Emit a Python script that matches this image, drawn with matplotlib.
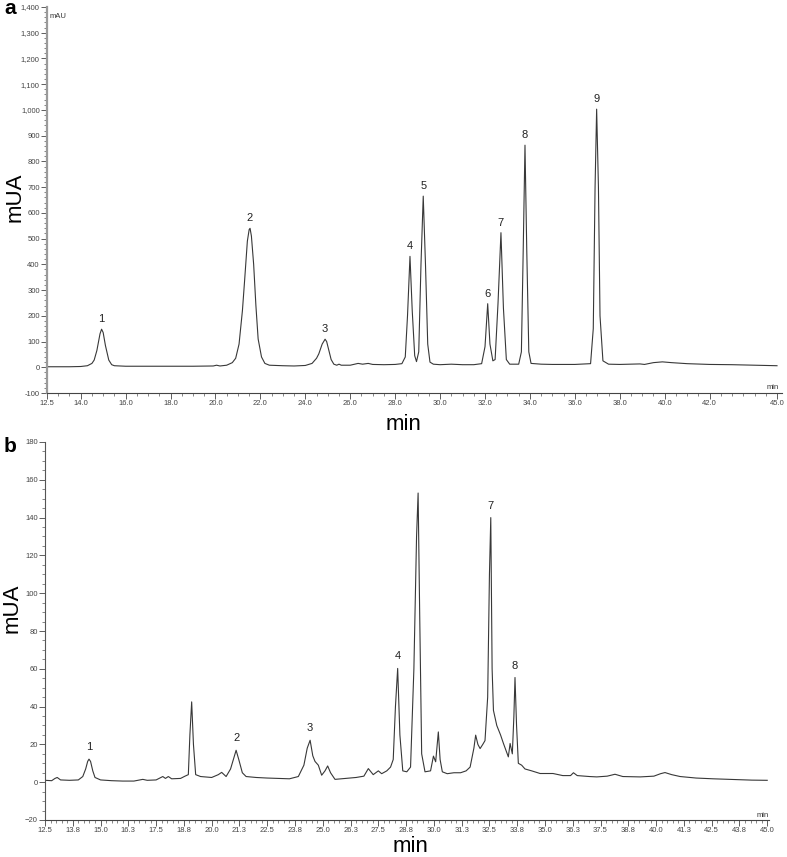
import matplotlib
matplotlib.use("Agg")
import matplotlib.pyplot as plt
from matplotlib.ticker import FixedLocator, MultipleLocator
import numpy as np

plt.rcParams['font.family'] = ['Liberation Sans', 'DejaVu Sans']

# ---- panel a: standard mixture (time in min, signal in mAU)
time_a = [12.5, 13.0, 13.5, 14.0, 14.3, 14.5, 14.6, 14.72, 14.86, 14.93, 15.0, 15.1, 15.25,
          15.38, 15.5, 16.0, 17.0, 18.0, 19.0, 19.9, 20.05, 20.2, 20.5, 20.75, 20.9, 21.05,
          21.2, 21.3, 21.42, 21.5, 21.54, 21.6, 21.7, 21.8, 21.9, 22.05, 22.2, 22.4, 23.0,
          23.5, 24.0, 24.3, 24.5, 24.6, 24.75, 24.88, 24.95, 25.05, 25.15, 25.27, 25.4, 25.5,
          25.6, 26.0, 26.35, 26.55, 26.8, 27.0, 27.5, 28.0, 28.3, 28.45, 28.55, 28.66, 28.76,
          28.87, 28.95, 29.05, 29.15, 29.25, 29.35, 29.45, 29.55, 29.7, 30.0, 30.5, 31.0, 31.5,
          31.85, 32.0, 32.12, 32.22, 32.35, 32.45, 32.58, 32.71, 32.82, 32.95, 33.1, 33.5,
          33.62, 33.7, 33.78, 33.86, 33.95, 34.05, 34.5, 35.0, 36.0, 36.7, 36.82, 36.9, 36.97,
          37.05, 37.12, 37.25, 37.5, 38.0, 38.9, 39.1, 39.5, 39.9, 40.3, 41.0, 42.0, 43.0,
          44.0, 45.0]
signal_a = [2, 2, 2, 3, 6, 15, 28, 65, 130, 148, 135, 85, 28,
            10, 6, 4, 4, 4, 4, 5, 8, 5, 8, 18, 35, 90,
            220, 340, 490, 535, 540, 510, 400, 240, 110, 40, 15, 8, 6,
            5, 7, 15, 35, 52, 90, 109, 100, 65, 30, 12, 8, 12,
            8, 8, 15, 12, 15, 11, 10, 11, 14, 40, 200, 431, 220,
            45, 22, 60, 400, 665, 400, 90, 20, 12, 10, 12, 10, 10,
            14, 80, 247, 90, 25, 30, 250, 523, 230, 30, 12, 12,
            60, 450, 863, 450, 60, 15, 12, 11, 11, 14, 150, 700, 1003,
            700, 200, 25, 12, 11, 13, 11, 18, 21, 18, 14, 11, 10,
            8, 6]
peak_names_a = ['1', '2', '3', '4', '5', '6', '7', '8', '9']
peak_t_a = [14.93, 21.54, 24.88, 28.66, 29.25, 32.12, 32.71, 33.78, 36.97]
peak_v_a = [148, 540, 109, 431, 665, 247, 523, 863, 1003]
xticks_a = [12.5, 14.0, 16.0, 18.0, 20.0, 22.0, 24.0, 26.0, 28.0, 30.0, 32.0,
            34.0, 36.0, 38.0, 40.0, 42.0, 45.0]
yticks_a = [-100, 0, 100, 200, 300, 400, 500, 600, 700, 800, 900, 1000, 1100, 1200, 1300, 1400]

# ---- panel b: sample extract
time_b = [12.5, 12.8, 12.95, 13.05, 13.2, 13.6, 14.0, 14.2, 14.33, 14.42, 14.48, 14.55, 14.65,
          14.75, 15.0, 15.5, 16.0, 16.5, 16.9, 17.1, 17.5, 17.8, 17.92, 18.05, 18.2, 18.6,
          18.8, 18.95, 19.02, 19.1, 19.18, 19.28, 19.5, 20.0, 20.3, 20.45, 20.65, 20.85, 21.0,
          21.1, 21.22, 21.38, 21.55, 22.0, 22.5, 23.0, 23.5, 23.9, 24.15, 24.3, 24.43, 24.55,
          24.65, 24.8, 24.95, 25.1, 25.22, 25.35, 25.55, 26.0, 26.5, 26.85, 27.05, 27.27, 27.5,
          27.65, 27.88, 28.05, 28.17, 28.27, 28.37, 28.47, 28.6, 28.78, 28.95, 29.1, 29.22,
          29.29, 29.36, 29.45, 29.6, 29.85, 29.98, 30.08, 30.2, 30.28, 30.38, 30.6, 30.9, 31.2,
          31.45, 31.63, 31.8, 31.88, 31.98, 32.08, 32.2, 32.3, 32.42, 32.5, 32.56, 32.62, 32.68,
          32.83, 33.0, 33.13, 33.35, 33.43, 33.53, 33.6, 33.65, 33.72, 33.8, 33.95, 34.1, 34.4,
          34.78, 35.36, 35.8, 36.15, 36.28, 36.45, 37.0, 37.33, 37.8, 38.15, 38.5, 39.28, 39.9,
          40.2, 40.4, 40.7, 41.08, 41.8, 42.56, 43.5, 44.3, 45.0]
signal_b = [1.0, 0.8, 2.0, 2.5, 1.2, 1.0, 1.2, 3, 7, 11, 12.2, 11, 6,
            2.5, 1.2, 0.8, 0.6, 0.6, 1.5, 1.0, 1.2, 3.0, 2.0, 3.0, 1.8, 2.0,
            3.2, 4, 25, 42.5, 20, 4, 3, 2.5, 4, 5.2, 3.0, 7, 13,
            16.9, 12, 5, 3, 2.5, 2.2, 2.0, 1.8, 3, 9, 18, 22.2, 14,
            11, 9, 3.7, 6, 8.6, 5, 1.5, 2.0, 2.5, 3.2, 7.2, 4.0, 6.0,
            4.5, 6.0, 8, 12, 40, 60.2, 25, 6, 5.5, 8, 60, 130,
            153, 90, 15, 5.5, 6, 13.8, 10.8, 26.6, 12, 5.5, 4.5, 5, 5,
            6, 8, 18, 24.9, 20, 17.8, 20, 22, 45, 110, 140, 60, 38,
            30, 25, 20.5, 13.4, 20.5, 15, 35, 55.4, 30, 10, 9, 7, 6,
            4.6, 4.6, 3.5, 3.5, 5, 3.5, 3, 2.8, 3.2, 4.2, 3, 2.8, 3.2,
            4.5, 5.1, 4, 3, 2.2, 1.8, 1.4, 1.1, 1.0]
peak_names_b = ['1', '2', '3', '4', '7', '8']
peak_t_b = [14.48, 21.1, 24.43, 28.37, 32.56, 33.65]
peak_v_b = [12.2, 16.9, 22.2, 60.2, 140, 55.4]
xticks_b = [12.5 + 1.25 * i for i in range(27)]
xticklabels_b = ['12.5', '13.8', '15.0', '16.3', '17.5', '18.8', '20.0', '21.3', '22.5',
                 '23.8', '25.0', '26.3', '27.5', '28.8', '30.0', '31.3', '32.5', '33.8',
                 '35.0', '36.3', '37.5', '38.8', '40.0', '41.3', '42.5', '43.8', '45.0']
yticks_b = [-20, 0, 20, 40, 60, 80, 100, 120, 140, 160, 180]

W, H = 787, 857
fig = plt.figure(figsize=(W / 100, H / 100), dpi=100)
ax_a = fig.add_axes([47 / W, 1 - 393 / H, 734.5 / W, 386 / H])
ax_b = fig.add_axes([45 / W, 1 - 820 / H, 724 / W, 378 / H])

trace_kw = dict(color='#383838', lw=0.8)
ax_a.plot(time_a, signal_a, **trace_kw)
ax_b.plot(time_b, signal_b, **trace_kw)


def style_axis(ax, left_color, left_lw):
    for s in ['top', 'right']:
        ax.spines[s].set_visible(False)
    ax.spines['left'].set_color(left_color)
    ax.spines['left'].set_linewidth(left_lw)
    ax.spines['bottom'].set_color('#444444')
    ax.spines['bottom'].set_linewidth(0.8)
    ax.tick_params(which='major', direction='out', length=4, width=0.6,
                   colors='#444444', labelsize=5.5, pad=1.2)
    ax.tick_params(which='minor', direction='out', length=2, width=0.5, colors='#555555')
    ax.set_facecolor('white')


# panel a axes
ax_a.set_xlim(12.5, 45.2)
ax_a.set_ylim(-100, 1400)
ax_a.set_xticks(xticks_a)
ax_a.set_xticklabels(['%.1f' % t for t in xticks_a])
ax_a.xaxis.set_minor_locator(FixedLocator(np.arange(12.5, 45.01, 0.5)))
ax_a.set_yticks(yticks_a)
ax_a.set_yticklabels([f'{v:,}' for v in yticks_a])
ax_a.yaxis.set_minor_locator(MultipleLocator(20))
style_axis(ax_a, '#9a9a9a', 1.6)
ax_a.text(0.004, 0.985, 'mAU', transform=ax_a.transAxes, fontsize=5.5,
          color='#333333', ha='left', va='top')
ax_a.text(45.1, -78, 'min', fontsize=5.5, color='#333333', ha='right', va='center')

for name, t, v in zip(peak_names_a, peak_t_a, peak_v_a):
    ax_a.annotate(name, (t, v), xytext=(0, 3.5), textcoords='offset points',
                  ha='center', va='bottom', fontsize=8, color='#222222')

# panel b axes
ax_b.set_xlim(12.5, 45.08)
ax_b.set_ylim(-20, 180)
ax_b.set_xticks(xticks_b)
ax_b.set_xticklabels(xticklabels_b)
ax_b.xaxis.set_minor_locator(FixedLocator(np.arange(12.5, 45.01, 0.25)))
ax_b.set_yticks(yticks_b)
ax_b.yaxis.set_minor_locator(MultipleLocator(5))
style_axis(ax_b, '#555555', 0.8)
ax_b.text(45.05, -17.5, 'min', fontsize=5.5, color='#333333', ha='right', va='center')

for name, t, v in zip(peak_names_b, peak_t_b, peak_v_b):
    ax_b.annotate(name, (t, v), xytext=(0, 5), textcoords='offset points',
                  ha='center', va='bottom', fontsize=8, color='#222222')

# big axis titles and panel letters
fig.text(15 / W, 1 - 197 / H, 'mUA', rotation=90, fontsize=16, ha='center', va='center')
fig.text(404 / W, 1 - 424 / H, 'min', fontsize=16, ha='center', va='center')
fig.text(12 / W, 1 - 608 / H, 'mUA', rotation=90, fontsize=16, ha='center', va='center')
fig.text(410 / W, 1 - 847 / H, 'min', fontsize=16, ha='center', va='center')
fig.text(4 / W, 1 - 9 / H, 'a', fontsize=15, fontweight='bold', ha='left', va='center')
fig.text(4 / W, 1 - 447 / H, 'b', fontsize=15, fontweight='bold', ha='left', va='center')

fig.savefig('out.png', dpi=100, facecolor='white')
